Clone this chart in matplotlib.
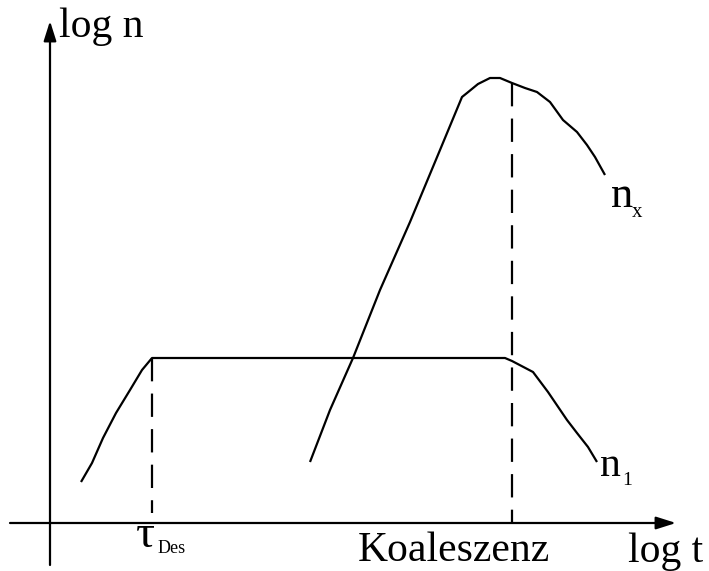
import matplotlib.pyplot as plt

plt.rcParams['font.family'] = ['Liberation Serif', 'DejaVu Serif']

# drawing units: x = log t, y = log n (y grows downward, like the sketch sheet)
# n_1: rise up to the desorption plateau, flat, then falling after coalescence
n1_t = [81, 92, 103, 116, 130, 142, 152, 200, 300, 400, 505, 512, 533, 548, 567, 577, 588, 597]
n1_n = [482, 463, 438, 413, 390, 370, 358, 358, 358, 358, 358, 361, 372, 392, 420, 433, 447, 462]

# n_x: cluster density, steep rise, maximum at coalescence, then decreasing
nx_t = [310, 330, 353, 380, 410, 440, 462, 467, 478, 490, 500, 512, 525, 537, 550, 563, 577, 587, 595, 605]
nx_n = [462, 410, 358, 290, 222, 150, 97, 93, 84, 78, 78, 83, 88, 92, 102, 120, 132, 145, 157, 175]

tau_des = 152
t_koal = 512
plateau = 358
n_peak = 83
axis_t0 = 50
axis_n0 = 523

fig = plt.figure(figsize=(7.09, 5.71), dpi=100)
ax = fig.add_axes([0, 0, 1, 1])
ax.set_xlim(0, 709)
ax.set_ylim(571, 0)
ax.axis('off')

lw = 1.6
ax.plot(n1_t, n1_n, color='black', lw=lw, solid_capstyle='butt')
ax.plot(nx_t, nx_n, color='black', lw=lw, solid_capstyle='butt')

# dashed markers for desorption time and coalescence
ax.plot([tau_des, tau_des], [plateau, axis_n0 - 10], color='black', lw=lw, dashes=(10.5, 5.5))
ax.plot([t_koal, t_koal], [n_peak, axis_n0], color='black', lw=lw, dashes=(10.5, 5.5))

# axes with arrow heads
arrow = dict(arrowstyle='-|>,head_length=1.2,head_width=0.38', color='black', lw=lw,
             shrinkA=0, shrinkB=0)
ax.annotate('', xy=(axis_t0, 21), xytext=(axis_t0, 565), arrowprops=arrow)
ax.annotate('', xy=(676, axis_n0), xytext=(10, axis_n0), arrowprops=arrow)

fs = 30
ax.text(59, 37, 'log n', fontsize=fs, ha='left', va='baseline')
ax.text(628, 562, 'log t', fontsize=fs, ha='left', va='baseline')
ax.text(358, 561, 'Koaleszenz', fontsize=fs, ha='left', va='baseline')

ax.text(136, 547, 'τ', fontsize=34, ha='left', va='baseline')
ax.text(158, 553, 'Des', fontsize=13, ha='left', va='baseline')

ax.text(611, 207, 'n', fontsize=32, ha='left', va='baseline')
ax.text(632, 217, 'x', fontsize=15, ha='left', va='baseline')

ax.text(600, 476, 'n', fontsize=30, ha='left', va='baseline')
ax.text(622, 485, '1', fontsize=14, ha='left', va='baseline')

fig.savefig('out.png', dpi=100)
